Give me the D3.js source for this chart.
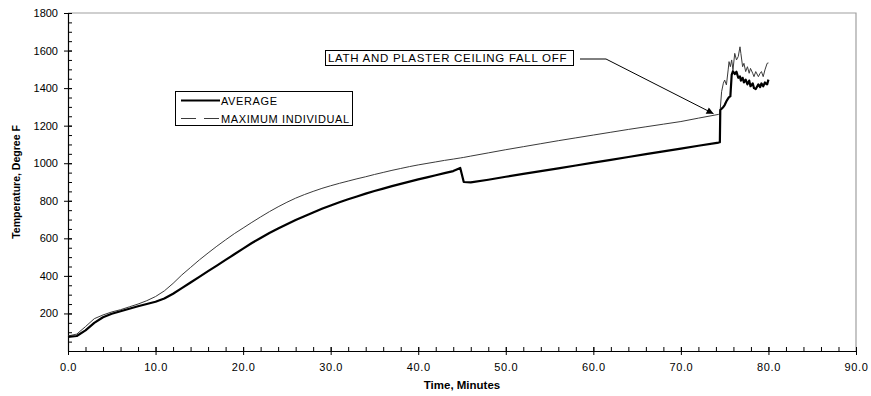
<!DOCTYPE html>
<html>
<head>
<meta charset="utf-8">
<script src="https://cdn.jsdelivr.net/npm/d3@7"></script>
<style>
  html, body { margin: 0; padding: 0; background: #fff; }
  svg { display: block; font-family: "Liberation Sans", Arial, sans-serif; }
</style>
</head>
<body>
<svg id="chart" width="871" height="396"></svg>
<script>
// ---- data ----
const timeMinutes = [
  0, 1, 2, 3, 4, 5, 6, 7, 8, 9, 10, 11, 12, 13, 14, 15, 16, 17, 18, 19, 20,
  21, 22, 23, 24, 25, 26, 27, 28, 29, 30, 31, 32, 33, 34, 35, 36, 37, 38, 39, 40,
  41, 42, 43, 44, 44.8, 45.2, 46, 48, 50, 52, 54, 56, 58, 60, 62, 64, 66, 68, 70, 72,
  74.3, 74.45, 74.5, 74.65, 74.85, 75.0, 75.2, 75.4, 75.5, 75.65, 75.8, 75.95,
  76.15, 76.35, 76.55, 76.75, 76.85, 77.05, 77.2, 77.4, 77.6, 77.8, 77.95,
  78.2, 78.35, 78.55, 78.85, 79.05, 79.2, 79.4, 79.6, 79.85, 80.0
];
const averageTemp = [
  75, 80, 110, 150, 180, 198, 212, 225, 238, 250, 262, 280, 305, 335, 365, 395, 425, 455, 485, 515, 545,
  575, 602, 628, 652, 675, 698, 718, 738, 757, 775, 792, 808, 823, 838, 852, 865, 878, 890, 902, 914,
  925, 936, 947, 958, 975, 900, 898, 912, 928, 943, 958, 973, 988, 1003, 1018, 1033, 1048, 1063, 1078, 1093,
  1110, 1112, 1283, 1290, 1300, 1310, 1330, 1345, 1352, 1356, 1470, 1490,
  1475, 1487, 1455, 1462, 1440, 1455, 1430, 1445, 1420, 1440, 1410,
  1425, 1400, 1395, 1420, 1405, 1425, 1410, 1430, 1420, 1445
];
const maximumTemp = [
  80, 90, 130, 172, 192, 208, 220, 235, 250, 268, 290, 320, 360, 405, 445, 485, 522, 558, 592, 625, 655,
  685, 714, 742, 768, 792, 814, 833, 850, 866, 880, 893, 905, 917, 928, 940, 951, 962, 972, 982, 991,
  999, 1007, 1015, 1022, 1028, 1031, 1038, 1055, 1072, 1088, 1104, 1120, 1135, 1150, 1165, 1180, 1194, 1208, 1222, 1240,
  1260, 1263, 1290, 1381, 1426, 1443, 1417, 1497, 1541, 1514, 1550, 1497,
  1585, 1550, 1568, 1620, 1585, 1514, 1532, 1488, 1514, 1479, 1505,
  1479, 1461, 1488, 1461, 1479, 1488, 1461, 1497, 1532, 1534
];
const xTickValues = [0, 10, 20, 30, 40, 50, 60, 70, 80, 90];
const yTickValues = [200, 400, 600, 800, 1000, 1200, 1400, 1600, 1800];
const seriesNames = ["AVERAGE", "MAXIMUM INDIVIDUAL"];
const annotationText = "LATH AND PLASTER CEILING FALL OFF";
const annotationPoint = [74.3, 1285];

(function () {
// ---- layout ----
const pL = 68, pR = 856, pT = 13, pB = 351;
const svg = d3.select("#chart");
const x = d3.scaleLinear().domain([0, 90]).range([pL, pR]);
const y = d3.scaleLinear().domain([0, 1800]).range([pB, pT]);

// plot area border (top/right grey)
svg.append("path")
  .attr("d", `M${pL},${pT}H${pR}V${pB}`)
  .attr("fill", "none").attr("stroke", "#a0a0a0").attr("stroke-width", 1.2);

// minor ticks
const gxMinor = svg.append("g").attr("transform", `translate(0,${pB})`)
  .call(d3.axisBottom(x).tickValues(d3.range(0, 91, 2)).tickSize(-4).tickFormat(""));
gxMinor.select(".domain").remove();
gxMinor.selectAll("line").attr("stroke", "#000");
const gyMinor = svg.append("g").attr("transform", `translate(${pL},0)`)
  .call(d3.axisLeft(y).tickValues(d3.range(0, 1801, 50)).tickSize(-4).tickFormat(""));
gyMinor.select(".domain").remove();
gyMinor.selectAll("line").attr("stroke", "#000");

// major axes
const gx = svg.append("g").attr("transform", `translate(0,${pB})`)
  .call(d3.axisBottom(x).tickValues(xTickValues).tickSize(4).tickSizeOuter(0).tickFormat(d3.format(".1f")));
gx.selectAll(".tick line").attr("y1", -4).attr("y2", 4).attr("stroke", "#000");
gx.select(".domain").attr("stroke", "#000").attr("stroke-width", 1.2);
gx.selectAll("text").attr("y", 12).attr("font-size", 11).attr("fill", "#000")
  .attr("font-family", "'Liberation Sans', Arial, sans-serif").attr("letter-spacing", "0.6px");

const gy = svg.append("g").attr("transform", `translate(${pL},0)`)
  .call(d3.axisLeft(y).tickValues(yTickValues).tickSize(4).tickSizeOuter(0).tickFormat(d3.format("d")));
gy.selectAll(".tick line").attr("x1", 4).attr("x2", -4).attr("stroke", "#000");
gy.select(".domain").attr("stroke", "#000").attr("stroke-width", 1.2);
gy.selectAll("text").attr("x", -10).attr("font-size", 11).attr("fill", "#000")
  .attr("font-family", "'Liberation Sans', Arial, sans-serif");

// axis titles
svg.append("text")
  .attr("x", (pL + pR) / 2).attr("y", 389)
  .attr("text-anchor", "middle").attr("font-weight", "bold").attr("font-size", 11.5)
  .text("Time, Minutes");
svg.append("text")
  .attr("transform", `translate(20,${(pT + pB) / 2}) rotate(-90)`)
  .attr("text-anchor", "middle").attr("font-weight", "bold").attr("font-size", 10.5)
  .text("Temperature, Degree F");

// lines
const rows = timeMinutes.map((t, i) => ({ t, avg: averageTemp[i], max: maximumTemp[i] }));
svg.append("path").datum(rows)
  .attr("fill", "none").attr("stroke", "#3a3a3a").attr("stroke-width", 1)
  .attr("stroke-linejoin", "round")
  .attr("d", d3.line().x(d => x(d.t)).y(d => y(d.max)));
svg.append("path").datum(rows)
  .attr("fill", "none").attr("stroke", "#000").attr("stroke-width", 2.2)
  .attr("stroke-linejoin", "round")
  .attr("d", d3.line().x(d => x(d.t)).y(d => y(d.avg)));

// legend
const lg = svg.append("g");
lg.append("rect").attr("x", 175.5).attr("y", 91.5).attr("width", 177).attr("height", 34)
  .attr("fill", "#fff").attr("stroke", "#000").attr("stroke-width", 1);
lg.append("line").attr("x1", 181).attr("x2", 220).attr("y1", 100.5).attr("y2", 100.5)
  .attr("stroke", "#000").attr("stroke-width", 2);
lg.append("line").attr("x1", 181).attr("x2", 220).attr("y1", 118.5).attr("y2", 118.5)
  .attr("stroke", "#3a3a3a").attr("stroke-width", 1).attr("stroke-dasharray", "15,8");
lg.selectAll("text.leg").data(seriesNames).join("text").attr("class", "leg")
  .attr("x", 221).attr("y", (d, i) => 104.5 + i * 18)
  .attr("font-size", 11).attr("letter-spacing", "0.6px").attr("fill", "#000")
  .text(d => d);

// annotation
svg.append("rect").attr("x", 325.5).attr("y", 50.5).attr("width", 248).attr("height", 15)
  .attr("fill", "#fff").attr("stroke", "#000").attr("stroke-width", 1);
svg.append("text").attr("x", 328).attr("y", 62).attr("font-size", 11.5)
  .attr("letter-spacing", "0.7px").attr("fill", "#000").text(annotationText);
svg.append("defs").append("marker")
  .attr("id", "arrow").attr("viewBox", "0 0 10 10").attr("refX", 10).attr("refY", 5)
  .attr("markerWidth", 9).attr("markerHeight", 7).attr("markerUnits", "userSpaceOnUse")
  .attr("orient", "auto")
  .append("path").attr("d", "M0,0L10,5L0,10Z").attr("fill", "#000");
const ax = x(annotationPoint[0]) - 5, ay = y(annotationPoint[1]) + 4;
svg.append("path")
  .attr("d", `M580,59H606L${ax},${ay}`)
  .attr("fill", "none").attr("stroke", "#000").attr("stroke-width", 1)
  .attr("marker-end", "url(#arrow)");
})();
</script>
</body>
</html>
